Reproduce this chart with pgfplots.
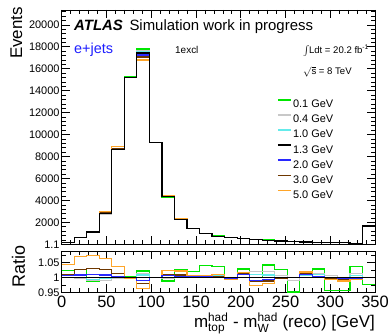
\documentclass[border=0pt]{standalone}
\usepackage{pgfplots}
\pgfplotsset{compat=1.18}
\usepackage{pgfplotstable}
\usepackage{amsmath}
\usepackage{fontspec}
\setmainfont{Liberation Sans}
\definecolor{cgreen}{RGB}{0,230,0}
\definecolor{cgray}{RGB}{200,200,200}
\definecolor{ccyan}{RGB}{100,235,235}
\definecolor{cblue}{RGB}{40,40,255}
\definecolor{cbrown}{RGB}{110,55,0}
\definecolor{corange}{RGB}{255,165,40}
\definecolor{cejets}{RGB}{30,30,255}

\pgfplotstableread{
x green gray cyan black blue brown orange
0 154 150 150 150 151 152 156
14 616 599 600 600 605 615 642
28 1103 1109 1112 1120 1131 1154 1201
42 2782 2762 2776 2790 2812 2865 2963
56 8623 8623 8640 8640 8666 8744 8942
70 15246 15200 15200 15200 15200 15200 15170
84 17796 17639 17569 17430 17256 17064 16785
98 9250 9250 9250 9250 9250 9250 9250
112 4308 4338 4360 4360 4382 4404 4465
126 2327 2279 2275 2270 2279 2288 2318
140 1438 1410 1410 1410 1413 1417 1420
154 1009 973 970 970 972 973 977
168 756 737 734 730 730 732 737
182 605 610 610 610 609 609 606
196 535 520 520 520 525 526 528
210 430 439 434 430 426 424 418
224 385 377 373 370 367 366 362
238 308 302 300 300 300 299 300
252 257 267 270 270 270 270 270
266 210 213 212 210 212 213 214
280 185 182 182 180 181 180 181
294 143 151 150 150 150 150 149
308 134 140 140 140 139 139 138
322 104 101 100 100 100 100 99
336 1622 1660 1660 1660 1660 1660 1660
350 1622 1660 1660 1660 1660 1660 1660
}\upper

\pgfplotstableread{
x green gray cyan black blue brown orange
0 1.024 1.0 1.0 1 1.005 1.01 1.043
14 1.027 0.998 1.0 1 1.008 1.025 1.07
28 0.985 0.99 0.993 1 1.01 1.03 1.072
42 0.997 0.99 0.995 1 1.008 1.027 1.062
56 0.998 0.998 1.0 1 1.003 1.012 1.035
70 1.003 1.0 1.0 1 1.0 1.0 0.998
84 1.021 1.012 1.008 1 0.99 0.979 0.963
98 1.0 1.0 1.0 1 1.0 1.0 1.0
112 0.988 0.995 1.0 1 1.005 1.01 1.024
126 1.025 1.004 1.002 1 1.004 1.008 1.021
140 1.02 1.0 1.0 1 1.002 1.005 1.007
154 1.04 1.003 1.0 1 1.002 1.003 1.007
168 1.035 1.01 1.005 1 1.0 1.003 1.01
182 0.992 1.0 1.0 1 0.998 0.998 0.993
196 1.028 1.0 1.0 1 1.01 1.012 1.015
210 1.0 1.02 1.01 1 0.99 0.985 0.973
224 1.041 1.02 1.008 1 0.993 0.988 0.979
238 1.025 1.006 1.0 1 1.0 0.998 1.0
252 0.951 0.99 1.0 1 1.0 1.0 1.0
266 1.0 1.015 1.008 1 1.01 1.012 1.018
280 1.028 1.012 1.01 1 1.003 1.0 1.004
294 0.955 1.005 1.0 1 1.0 0.998 0.993
308 0.955 1.0 1.0 1 0.995 0.993 0.988
322 1.035 1.012 1.005 1 0.995 0.996 0.993
336 0.977 1.0 1.0 1 1.0 1.0 1.0
350 0.977 1.0 1.0 1 1.0 1.0 1.0
}\ratio

\pgfplotsset{
  hist/.style={const plot mark left, no marks, line width=1.2bp},
  common/.style={
    scale only axis, anchor=south west,
    width=313.3bp,
    xmin=0, xmax=350,
    tick align=inside, tick pos=both,
    xtick={0,50,...,350}, minor x tick num=4,
    major tick length=8bp, minor tick length=4.5bp,
    axis line style={line width=0.8bp},
    every tick/.style={black, line width=0.6bp},
    scaled ticks=false,
    /pgf/number format/assume math mode=true,
    clip=true,
  },
}

\begin{document}
\begin{tikzpicture}
\path[use as bounding box] (0,0) rectangle (389bp,334bp);
\begin{axis}[common,
  at={(61.7bp,89.7bp)}, height=234.3bp,
  ymin=1.1, ymax=21350,
  xticklabels={},
  ytick={1.1,2000,4000,6000,8000,10000,12000,14000,16000,18000,20000},
  yticklabels={1.1,2000,4000,6000,8000,10000,12000,14000,16000,18000,20000},
  minor ytick={400,800,1200,1600,2400,2800,3200,3600,4400,4800,5200,5600,6400,6800,7200,7600,8400,8800,9200,9600,10400,10800,11200,11600,12400,12800,13200,13600,14400,14800,15200,15600,16400,16800,17200,17600,18400,18800,19200,19600,20400,20800,21200},
  yticklabel style={font=\fontsize{11}{11}\selectfont, inner sep=0pt, xshift=-2bp},
  legend style={at={(axis description cs:0.688,0.6189)}, anchor=north west,
    draw=none, fill=none, inner sep=0pt, outer sep=0pt,
    row sep=6.45bp, column sep=1.0bp,
    font=\fontsize{11}{11}\selectfont,
    nodes={inner sep=0pt, text height=8bp, text depth=0bp}},
  legend cell align=left,
  legend image code/.code={\draw[#1] (0bp,3.9bp) -- (13.4bp,3.9bp);},
]
\addlegendimage{color=cgreen, line width=1.4bp}\addlegendentry{0.1 GeV}
\addlegendimage{color=cgray, line width=1.4bp}\addlegendentry{0.4 GeV}
\addlegendimage{color=ccyan, line width=1.4bp}\addlegendentry{1.0 GeV}
\addlegendimage{color=black, line width=1.4bp}\addlegendentry{1.3 GeV}
\addlegendimage{color=cblue, line width=1.4bp}\addlegendentry{2.0 GeV}
\addlegendimage{color=cbrown, line width=1.4bp}\addlegendentry{3.0 GeV}
\addlegendimage{color=corange, line width=1.4bp}\addlegendentry{5.0 GeV}
\addplot[hist, cgreen, forget plot] table[x=x, y=green] {\upper};
\addplot[hist, cgray, forget plot] table[x=x, y=gray] {\upper};
\addplot[hist, ccyan, forget plot] table[x=x, y=cyan] {\upper};
\addplot[hist, cblue, forget plot] table[x=x, y=blue] {\upper};
\addplot[hist, cbrown, forget plot] table[x=x, y=brown] {\upper};
\addplot[hist, corange, forget plot] table[x=x, y=orange] {\upper};
\addplot[hist, black, forget plot] table[x=x, y=black] {\upper};
\end{axis}

\begin{axis}[common,
  at={(61.7bp,41.7bp)}, height=41.3bp,
  ymin=0.95, ymax=1.088,
  ytick={0.95,1,1.05}, yticklabels={0.95,1,1.05},
  minor ytick={0.975,1.025,1.075},
  xticklabels={0,50,100,150,200,250,300,350},
  yticklabel style={font=\fontsize{11}{11}\selectfont, inner sep=0pt, xshift=-2bp},
  xticklabel style={font=\fontsize{16.5}{16.5}\selectfont, inner sep=0pt, yshift=-3.5bp},
]
\addplot[hist, cgreen] table[x=x, y=green] {\ratio};
\addplot[hist, cgray] table[x=x, y=gray] {\ratio};
\addplot[hist, ccyan] table[x=x, y=cyan] {\ratio};
\addplot[hist, cbrown] table[x=x, y=brown] {\ratio};
\addplot[hist, corange] table[x=x, y=orange] {\ratio};
\addplot[hist, cblue] table[x=x, y=blue] {\ratio};
\addplot[hist, black] table[x=x, y=black] {\ratio};
\end{axis}

\node[anchor=base west, inner sep=0pt, font=\fontsize{15}{15}\selectfont\bfseries\itshape] at (74bp,303bp) {ATLAS};
\node[anchor=base west, inner sep=0pt, font=\fontsize{15}{15}\selectfont] at (129.3bp,303bp) {Simulation work in progress};
\node[anchor=base west, inner sep=0pt, text=cejets, font=\fontsize{14.5}{14.5}\selectfont] at (74bp,280.7bp) {e+jets};
\node[anchor=base west, inner sep=0pt, font=\fontsize{10}{10}\selectfont] at (175bp,280.7bp) {1excl};
\node[anchor=base west, inner sep=0pt, font=\fontsize{9.6}{9.6}\selectfont] at (303bp,280.7bp) {$\int$\kern-0.8ptLdt = 20.2 fb\textsuperscript{-1}};
\node[anchor=base west, inner sep=0pt, font=\fontsize{9.6}{9.6}\selectfont] at (303bp,259bp) {$\sqrt{\text{s}}$ = 8 TeV};
\node[rotate=90, anchor=east, inner sep=0pt, font=\fontsize{17}{17}\selectfont] at (16.5bp,327bp) {Events};
\node[rotate=90, anchor=center, inner sep=0pt, font=\fontsize{18}{18}\selectfont] at (18.5bp,67.5bp) {Ratio};
\node[anchor=base east, inner sep=0pt, font=\fontsize{17}{17}\selectfont] at (375bp,6.5bp) {m$^{\text{had}}_{\text{top}}$ - m$^{\text{had}}_{\text{W}}$ (reco) [GeV]};
\end{tikzpicture}
\end{document}
